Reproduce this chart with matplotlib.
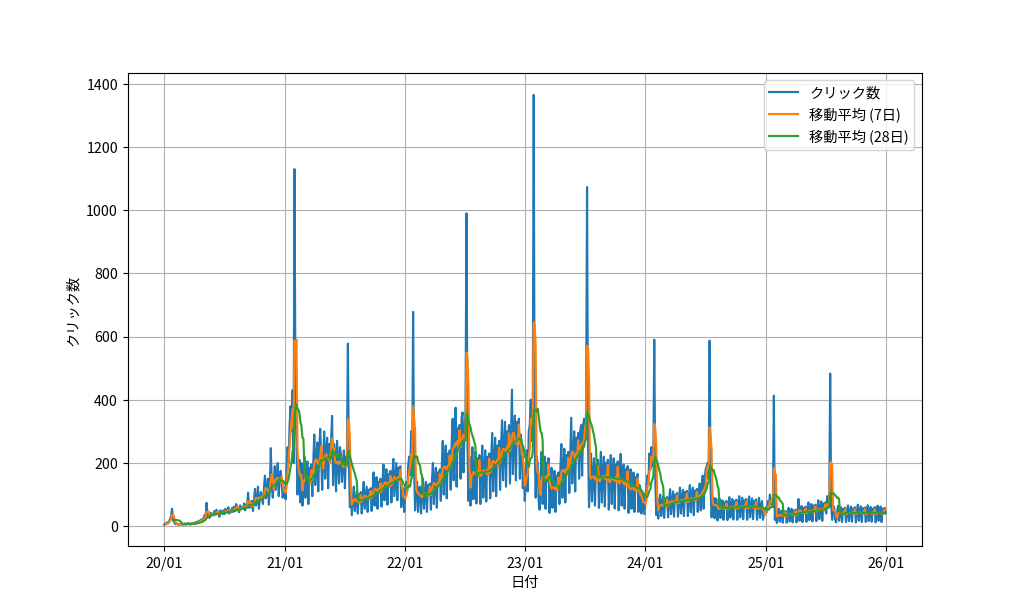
import matplotlib
matplotlib.use('Agg')
import matplotlib.pyplot as plt
import matplotlib.dates as mdates
import numpy as np
import pandas as pd

plt.rcParams['font.family'] = ['Noto Sans CJK JP', 'DejaVu Sans']

# clicks, one value every 3 days from 2020-01-01
# (each row covers 30 days)
clicks = [
    5, 8, 6, 12, 9, 15, 22, 30, 55, 25,                 # 2020-01
    14, 8, 6, 9, 5, 7, 4, 6, 8, 5,
    6, 9, 5, 7, 10, 6, 8, 5, 9, 7,
    9, 12, 8, 14, 11, 17, 13, 20, 16, 24,
    22, 35, 28, 74, 30, 38, 26, 42, 33, 40,
    34, 48, 36, 52, 40, 45, 30, 50, 42, 38,
    50, 38, 55, 42, 48, 60, 40, 52, 44, 58,
    45, 62, 48, 70, 50, 58, 44, 66, 53, 60,
    55, 72, 50, 68, 62, 106, 58, 75, 60, 80,
    48, 85, 118, 65, 80, 125, 55, 92, 108, 88,
    70, 115, 160, 88, 105, 150, 68, 120, 247, 125,
    90, 135, 190, 115, 145, 200, 95, 150, 175, 140,
    90, 125, 110, 85, 180, 250, 200, 320, 380, 300,     # 2020-12 / 2021-01
    430, 200, 1130, 380, 260, 100, 190, 210, 75, 200,
    65, 150, 220, 90, 160, 205, 70, 185, 150, 195,
    95, 205, 290, 130, 215, 265, 110, 240, 308, 210,
    115, 220, 300, 150, 235, 280, 120, 260, 215, 270,
    349, 130, 260, 230, 110, 270, 210, 135, 250, 225,
    140, 200, 240, 120, 220, 220, 578, 200, 60, 110,
    35, 85, 125, 48, 80, 110, 40, 100, 85, 108,
    40, 95, 140, 55, 90, 125, 45, 115, 98, 120,
    48, 115, 170, 65, 120, 155, 55, 140, 118, 150,
    62, 135, 195, 82, 140, 180, 68, 165, 138, 175,
    75, 160, 213, 95, 150, 200, 82, 185, 160, 190,
    60, 110, 120, 45, 100, 140, 110, 190, 220, 160,     # 2021-12 / 2022-01
    300, 160, 678, 180, 50, 130, 140, 45, 120, 125,
    40, 110, 150, 55, 105, 140, 45, 130, 112, 135,
    52, 140, 200, 70, 135, 185, 58, 170, 145, 180,
    80, 190, 270, 100, 195, 255, 88, 230, 200, 240,
    115, 265, 340, 145, 270, 375, 125, 310, 280, 320,
    150, 340, 360, 170, 300, 360, 990, 250, 80, 220,
    65, 180, 250, 85, 175, 235, 72, 215, 185, 225,
    70, 185, 255, 90, 180, 240, 78, 220, 190, 230,
    88, 215, 295, 110, 210, 280, 95, 255, 220, 270,
    115, 255, 335, 145, 250, 330, 125, 300, 260, 320,
    135, 285, 432, 165, 290, 350, 145, 330, 295, 340,
    150, 290, 250, 120, 180, 80, 150, 240, 110, 300,    # 2022-12 / 2023-01
    320, 400, 270, 300, 1365, 250, 90, 220, 200, 80,
    52, 165, 235, 70, 160, 220, 55, 200, 170, 215,
    42, 130, 185, 58, 125, 175, 45, 160, 135, 170,
    70, 180, 260, 90, 185, 245, 75, 225, 190, 235,
    105, 230, 343, 135, 225, 300, 110, 280, 240, 295,
    150, 300, 320, 160, 320, 340, 280, 360, 1073, 260,
    60, 160, 230, 78, 165, 215, 65, 195, 165, 210,
    58, 160, 235, 75, 165, 220, 62, 200, 170, 210,
    52, 155, 225, 70, 160, 215, 56, 195, 165, 205,
    50, 150, 229, 65, 145, 195, 55, 180, 150, 190,
    42, 125, 180, 55, 130, 170, 45, 155, 130, 165,
    45, 130, 120, 40, 100, 90, 38, 80, 120, 160,        # 2023-12 / 2024-01
    130, 230, 180, 250, 190, 190, 590, 150, 35, 90,
    24, 70, 100, 32, 72, 95, 26, 88, 74, 92,
    28, 80, 117, 38, 82, 110, 30, 100, 85, 105,
    30, 85, 122, 40, 88, 115, 32, 108, 90, 112,
    32, 90, 130, 44, 92, 122, 35, 112, 95, 118,
    45, 110, 135, 50, 120, 160, 55, 150, 180, 190,
    200, 150, 587, 120, 28, 85, 90, 25, 88, 85,
    18, 60, 88, 26, 62, 82, 20, 75, 62, 80,
    19, 63, 92, 27, 65, 86, 21, 79, 66, 84,
    20, 65, 95, 28, 66, 90, 22, 82, 68, 86,
    20, 64, 94, 28, 67, 88, 22, 80, 66, 85,
    20, 62, 90, 26, 64, 80, 20, 45, 40, 60,             # 2024-12 / 2025-01
    45, 80, 60, 100, 70, 80, 60, 413, 20, 60,
    10, 36, 55, 14, 38, 50, 11, 46, 38, 48,
    11, 40, 58, 15, 41, 55, 12, 50, 42, 52,
    12, 46, 86, 17, 48, 64, 13, 58, 48, 62,
    14, 52, 75, 19, 53, 70, 15, 65, 54, 68,
    16, 57, 82, 22, 58, 78, 17, 72, 60, 75,
    40, 95, 60, 60, 483, 70, 20, 65, 60, 22,
    12, 44, 65, 17, 45, 60, 13, 55, 46, 58,
    13, 44, 66, 16, 46, 62, 14, 56, 45, 60,
    12, 45, 68, 17, 44, 63, 13, 57, 47, 59,
    13, 43, 66, 16, 45, 61, 14, 55, 46, 60,
    12, 44, 65, 17, 44, 62, 13, 56, 45, 58,
    40,
]

dates = pd.date_range('2020-01-01', periods=len(clicks), freq='3D')
s = pd.Series(clicks, index=dates, dtype=float)

ma7 = s.rolling('7D', min_periods=3).mean()
ma28 = s.rolling('28D', min_periods=10).mean()

fig = plt.figure(figsize=(10, 6), dpi=102.4)
ax = fig.add_subplot(111)
ax.plot(s.index, s.values, label='クリック数')
ax.plot(ma7.index, ma7.values, label='移動平均 (7日)')
ax.plot(ma28.index, ma28.values, label='移動平均 (28日)')

ax.xaxis.set_major_locator(mdates.YearLocator())
ax.xaxis.set_major_formatter(mdates.DateFormatter('%y/%m'))
ax.set_xlabel('日付')
ax.set_ylabel('クリック数')
ax.grid(True)
ax.legend(loc='upper right')

fig.savefig('out.png', dpi=102.4)
